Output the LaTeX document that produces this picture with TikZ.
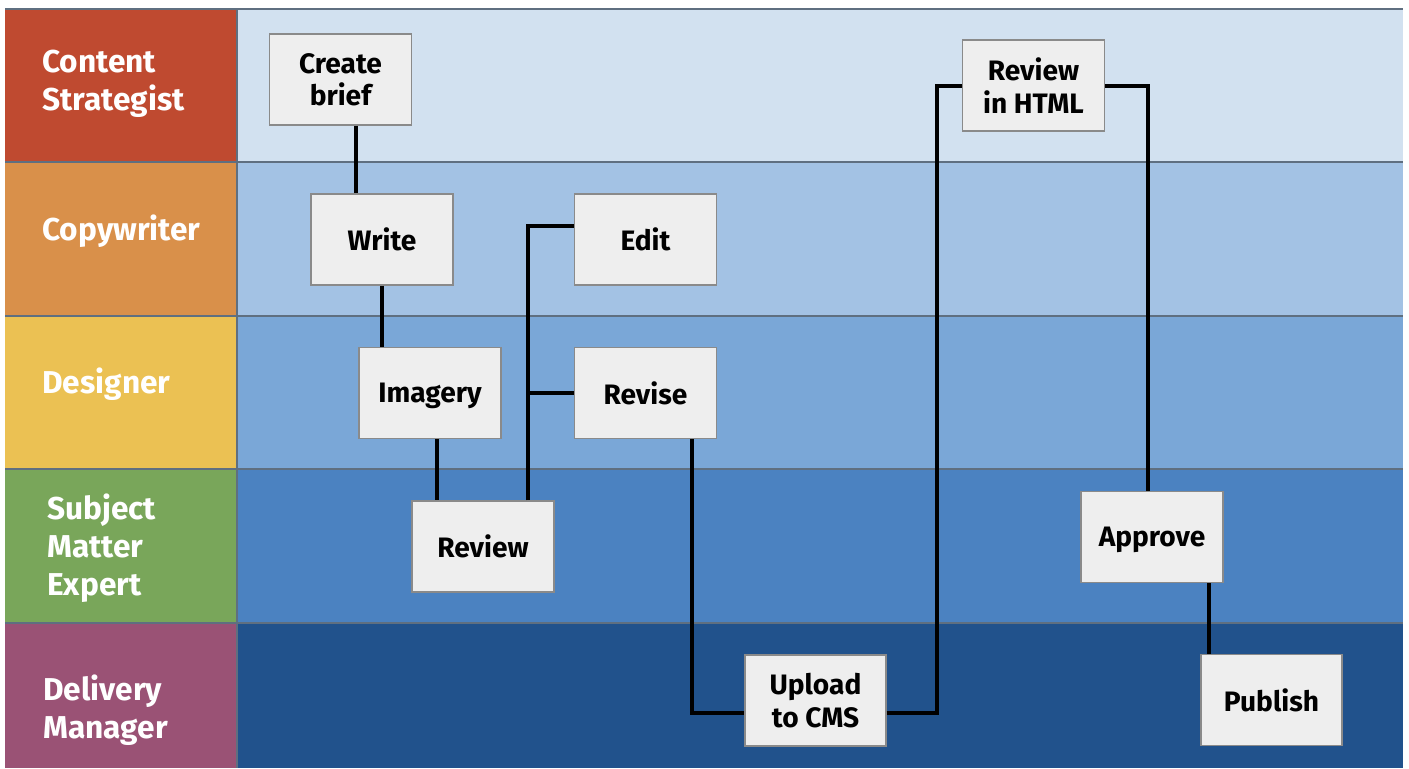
\documentclass[tikz,border=0pt]{standalone}
\usepackage{fontspec}
\setmainfont{Fira Sans}
\definecolor{cRed}{HTML}{BF4A30}
\definecolor{cOrange}{HTML}{D9904A}
\definecolor{cYellow}{HTML}{EBC153}
\definecolor{cGreen}{HTML}{79A65A}
\definecolor{cPurple}{HTML}{9A5275}
\definecolor{bgA}{HTML}{D2E1F0}
\definecolor{bgB}{HTML}{A3C2E4}
\definecolor{bgC}{HTML}{7AA7D7}
\definecolor{bgD}{HTML}{4B82C1}
\definecolor{bgE}{HTML}{21528C}
\definecolor{sepcol}{HTML}{5F6F80}
\definecolor{boxfill}{HTML}{EEEEEE}
\definecolor{boxline}{HTML}{8A8A8A}
\tikzset{
  rolelabel/.style={anchor=west, text=white, font=\bfseries\fontsize{18}{21.6}\selectfont, align=left, inner sep=0pt},
  task/.style={draw=boxline, fill=boxfill, line width=0.8pt, minimum width=2.84cm, minimum height=1.82cm, font=\bfseries\fontsize{16}{18.7}\selectfont, align=center, inner sep=0pt, text depth=0pt},
  flow/.style={line width=2pt, black}
}
\begin{document}
\begin{tikzpicture}[x=0.02cm,y=-0.02cm]
\useasboundingbox[fill=white] (0,0) rectangle (1409,768);
% lanes background
\fill[bgA] (237,9) rectangle (1403,162);
\fill[bgB] (237,162) rectangle (1403,316);
\fill[bgC] (237,316) rectangle (1403,469);
\fill[bgD] (237,469) rectangle (1403,623);
\fill[bgE] (237,623) rectangle (1403,768);
\fill[cRed] (5,9) rectangle (237,162);
\fill[cOrange] (5,162) rectangle (237,316);
\fill[cYellow] (5,316) rectangle (237,469);
\fill[cGreen] (5,469) rectangle (237,623);
\fill[cPurple] (5,623) rectangle (237,768);
\draw[sepcol, line width=0.8pt] (5,9) -- (1403,9);
\foreach \yy in {162,316,469,623} \draw[sepcol, line width=0.8pt] (5,\yy) -- (1403,\yy);
\draw[sepcol, line width=0.8pt] (237,9) -- (237,768);
% role labels
\node[rolelabel] (lcs) at (42,84) {Content\\Strategist};
\node[rolelabel] (lcw) at (42,231) {Copywriter};
\node[rolelabel] (lde) at (42,384) {Designer};
\node[rolelabel] (lsme) at (47,548) {Subject\\Matter\\Expert};
\node[rolelabel] (ldm) at (43,710) {Delivery\\Manager};
% tasks
\node[task] (brief) at (340.5,79.5) {Create\\brief};
\node[task] (write) at (382,239.5) {Write};
\node[task] (edit) at (645.5,239.5) {Edit};
\node[task] (imagery) at (430,393) {Imagery};
\node[task] (revise) at (645.5,393) {Revise};
\node[task] (review) at (483,546.5) {Review};
\node[task, minimum width=2.82cm] (upload) at (815.5,700.5) {Upload\\to CMS};
\node[task] (html) at (1033.5,85.5) {Review\\in HTML};
\node[task] (approve) at (1152,537) {Approve};
\node[task, minimum width=2.82cm] (publish) at (1271.5,700) {Publish};
% junction coordinates
\coordinate (jEdit) at (528,226);
\coordinate (jRev) at (528,393);
\coordinate (jUp) at (937,713);
\coordinate (jHtml) at (937,86);
\coordinate (jAp) at (1148,86);
% connectors
\draw[flow] (brief.south -| 356,0) -- (write.north -| 356,0);
\draw[flow] (write.south -| 382,0) -- (imagery.north -| 382,0);
\draw[flow] (imagery.south -| 437,0) -- (review.north -| 437,0);
\draw[flow] (review.north -| jEdit) -- (jEdit) -- (edit.west |- jEdit);
\draw[flow] (jRev) -- (revise.west);
\draw[flow] (revise.south -| 692,0) |- (upload.west |- jUp);
\draw[flow] (upload.east |- jUp) -- (jUp) -- (jHtml) -- (html.west |- jHtml);
\draw[flow] (html.east |- jAp) -- (jAp) -- (approve.north -| jAp);
\draw[flow] (approve.south -| 1209,0) -- (publish.north -| 1209,0);
\end{tikzpicture}
\end{document}
